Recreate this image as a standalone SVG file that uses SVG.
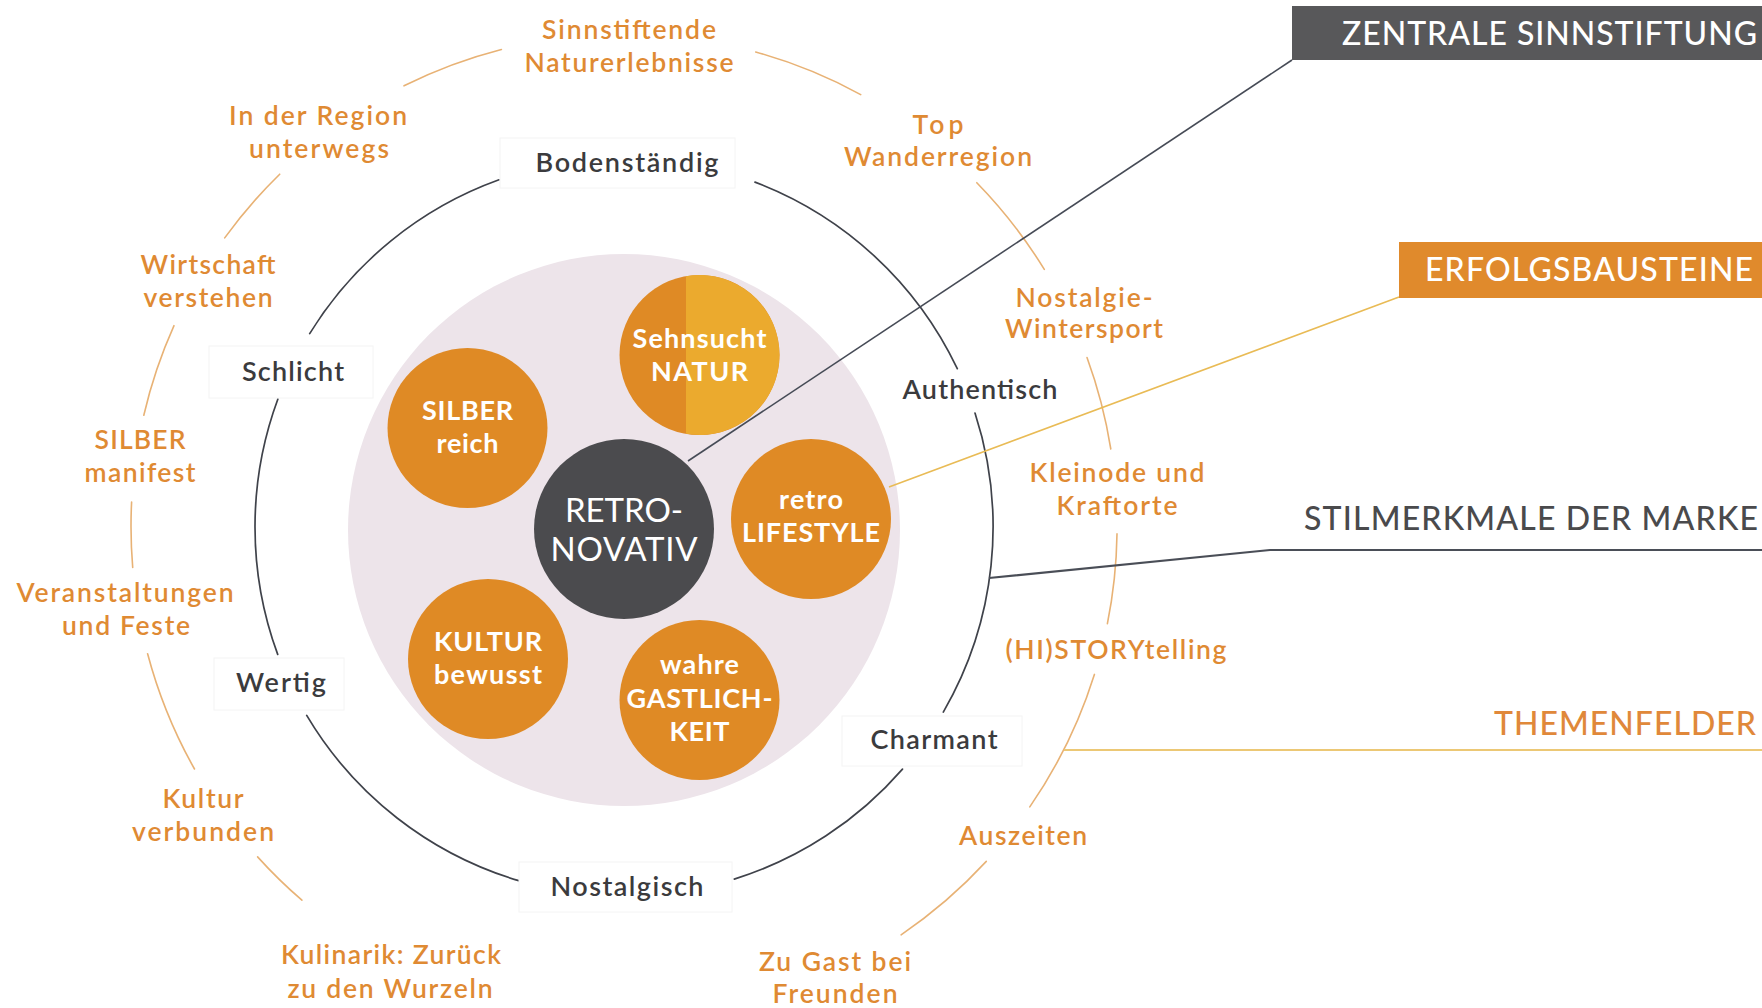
<svg xmlns="http://www.w3.org/2000/svg" width="1762" height="1008" viewBox="0 0 1762 1008">
<style>
text{font-family:Lato,"Open Sans","Liberation Sans",sans-serif;text-anchor:middle}
.o{fill:#df8a33;font-size:26.5px;font-weight:600}
.d{fill:#3b3b3d;font-size:27px;font-weight:600}
.w{fill:#ffffff;font-size:27px;font-weight:700}
.c{fill:#ffffff;font-size:33px;font-weight:400}
.h{font-size:32px;font-weight:500}
.lb{fill:#ffffff;stroke:#f4f4f4;stroke-width:1}
.orc{fill:none;stroke:#e8b275;stroke-width:1.6;stroke-linecap:round}
.drc{fill:none;stroke:#3f424a;stroke-width:1.7;stroke-linecap:round}
.oc{fill:#df8a25}
</style>
<rect width="1762" height="1008" fill="#ffffff"/>
<g id="background">
<circle cx="624" cy="530" r="276" fill="#ede4ea"/>
</g>
<g id="rings">
<path class="orc" d="M404 85.8A493 493 0 0 1 501.4 49.5"/>
<path class="orc" d="M755.7 52A493 493 0 0 1 860.7 94.6"/>
<path class="orc" d="M976.8 182.7A493 493 0 0 1 1044.3 269.4"/>
<path class="orc" d="M1087 357.6A493 493 0 0 1 1110.8 449"/>
<path class="orc" d="M1117 533.9A493 493 0 0 1 1107.4 623.6"/>
<path class="orc" d="M1094.4 674.4A493 493 0 0 1 1029.8 806.9"/>
<path class="orc" d="M986.3 861.4A493 493 0 0 1 901.1 934.8"/>
<path class="orc" d="M301.9 900.2A493 493 0 0 1 257.6 856.9"/>
<path class="orc" d="M194.5 769A493 493 0 0 1 147.6 653.7"/>
<path class="orc" d="M132.7 567.4A493 493 0 0 1 131.6 502.1"/>
<path class="orc" d="M143.8 415.2A493 493 0 0 1 174 325.7"/>
<path class="orc" d="M224.7 237.9A493 493 0 0 1 279.7 174.2"/>
<path class="drc" d="M755 182.1A369 369 0 0 1 957.3 368.7"/>
<path class="drc" d="M975 413A369 369 0 0 1 943.3 712.1"/>
<path class="drc" d="M902.5 769.1A369 369 0 0 1 734.3 879.1"/>
<path class="drc" d="M518.6 880.6A369 369 0 0 1 306.7 715.4"/>
<path class="drc" d="M277.7 654.4A369 369 0 0 1 277.9 399"/>
<path class="drc" d="M309.7 333.6A369 369 0 0 1 499 179.8"/>
</g>
<g id="connectors">
<line x1="688" y1="461" x2="1292" y2="60" stroke="#464b56" stroke-width="1.6"/>
<line x1="889" y1="487" x2="1399" y2="297" stroke="#e9bb55" stroke-width="1.6"/>
<polyline points="989,578 1270,550 1762,550" fill="none" stroke="#4a4e57" stroke-width="2.2"/>
<line x1="1064" y1="750" x2="1762" y2="750" stroke="#ecc875" stroke-width="2.2"/>
</g>
<g id="center">
<circle cx="624" cy="529" r="90" fill="#4b4b4e"/>
<text class="c" x="624" y="522" textLength="118">RETRO-</text>
<text class="c" x="624" y="561" textLength="147">NOVATIV</text>
</g>
<g id="sehnsucht-natur">
<circle class="oc" cx="699.5" cy="355" r="80"/>
<path d="M686 276.15A80 80 0 1 1 686 433.85Z" fill="#ebaa2e"/>
<text class="w" x="699.5" y="348" textLength="134">Sehnsucht</text>
<text class="w" x="699.5" y="381" textLength="97">NATUR</text>
</g>
<g id="silber-reich">
<circle class="oc" cx="467.5" cy="428" r="80"/>
<text class="w" x="467.5" y="420" textLength="91">SILBER</text>
<text class="w" x="467.5" y="453" textLength="62">reich</text>
</g>
<g id="retro-lifestyle">
<circle class="oc" cx="811" cy="519" r="80"/>
<text class="w" x="811" y="509" textLength="64">retro</text>
<text class="w" x="811" y="542" textLength="138">LIFESTYLE</text>
</g>
<g id="kultur-bewusst">
<circle class="oc" cx="488" cy="659" r="80"/>
<text class="w" x="488" y="651" textLength="108">KULTUR</text>
<text class="w" x="488" y="684" textLength="108">bewusst</text>
</g>
<g id="wahre-gastlichkeit">
<circle class="oc" cx="699.5" cy="700" r="80"/>
<text class="w" x="699.5" y="674" textLength="79">wahre</text>
<text class="w" x="699.5" y="708" textLength="146">GASTLICH-</text>
<text class="w" x="699.5" y="741" textLength="60">KEIT</text>
</g>
<g id="bodenstaendig">
<rect class="lb" x="500" y="138" width="235" height="50"/>
<text class="d" x="627" y="172" textLength="183">Bodenständig</text>
</g>
<g id="authentisch">
<text class="d" x="980" y="399" textLength="155">Authentisch</text>
</g>
<g id="charmant">
<rect class="lb" x="842" y="716" width="180" height="50"/>
<text class="d" x="934" y="749" textLength="127">Charmant</text>
</g>
<g id="nostalgisch">
<rect class="lb" x="519" y="862" width="213" height="50"/>
<text class="d" x="627" y="896" textLength="153">Nostalgisch</text>
</g>
<g id="wertig">
<rect class="lb" x="214" y="658" width="130" height="52"/>
<text class="d" x="281" y="692" textLength="90">Wertig</text>
</g>
<g id="schlicht">
<rect class="lb" x="209" y="346" width="164" height="52"/>
<text class="d" x="293" y="381" textLength="102">Schlicht</text>
</g>
<g id="sinnstiftende-naturerlebnisse">
<text class="o" x="629" y="39" textLength="174">Sinnstiftende</text>
<text class="o" x="629" y="72" textLength="209">Naturerlebnisse</text>
</g>
<g id="top-wanderregion">
<text class="o" x="938" y="134" textLength="51">Top</text>
<text class="o" x="938" y="166" textLength="188">Wanderregion</text>
</g>
<g id="nostalgie-wintersport">
<text class="o" x="1084" y="307" textLength="137">Nostalgie-</text>
<text class="o" x="1084" y="338" textLength="158">Wintersport</text>
</g>
<g id="kleinode-kraftorte">
<text class="o" x="1117" y="482" textLength="175">Kleinode und</text>
<text class="o" x="1117" y="515" textLength="121">Kraftorte</text>
</g>
<g id="historytelling">
<text class="o" x="1116" y="659" textLength="221">(HI)STORYtelling</text>
</g>
<g id="auszeiten">
<text class="o" x="1023" y="845" textLength="128">Auszeiten</text>
</g>
<g id="zu-gast-bei-freunden">
<text class="o" x="835" y="971" textLength="152">Zu Gast bei</text>
<text class="o" x="835" y="1003" textLength="125">Freunden</text>
</g>
<g id="kulinarik">
<text class="o" x="391" y="964" textLength="220">Kulinarik: Zurück</text>
<text class="o" x="390" y="998" textLength="205">zu den Wurzeln</text>
</g>
<g id="kultur-verbunden">
<text class="o" x="203" y="808" textLength="81">Kultur</text>
<text class="o" x="203" y="841" textLength="142">verbunden</text>
</g>
<g id="veranstaltungen">
<text class="o" x="125" y="602" textLength="217">Veranstaltungen</text>
<text class="o" x="126" y="635" textLength="128">und Feste</text>
</g>
<g id="silber-manifest">
<text class="o" x="140" y="449" textLength="91">SILBER</text>
<text class="o" x="140" y="482" textLength="111">manifest</text>
</g>
<g id="wirtschaft-verstehen">
<text class="o" x="208" y="274" textLength="135">Wirtschaft</text>
<text class="o" x="208" y="307" textLength="129">verstehen</text>
</g>
<g id="in-der-region">
<text class="o" x="318" y="125" textLength="178">In der Region</text>
<text class="o" x="319" y="158" textLength="140">unterwegs</text>
</g>
<g id="zentrale-sinnstiftung">
<rect x="1292" y="6" width="470" height="54" fill="#58585a"/>
<text class="h" x="1549.5" y="45" fill="#ffffff" textLength="415">ZENTRALE SINNSTIFTUNG</text>
</g>
<g id="erfolgsbausteine">
<rect x="1399" y="242" width="363" height="56" fill="#e08a2c"/>
<text class="h" x="1589" y="281" fill="#ffffff" textLength="328">ERFOLGSBAUSTEINE</text>
</g>
<g id="stilmerkmale">
<text class="h" x="1531" y="530" fill="#4a4a4c" textLength="454">STILMERKMALE DER MARKE</text>
</g>
<g id="themenfelder">
<text class="h" x="1625" y="735" fill="#e0883a" textLength="262">THEMENFELDER</text>
</g>
</svg>
